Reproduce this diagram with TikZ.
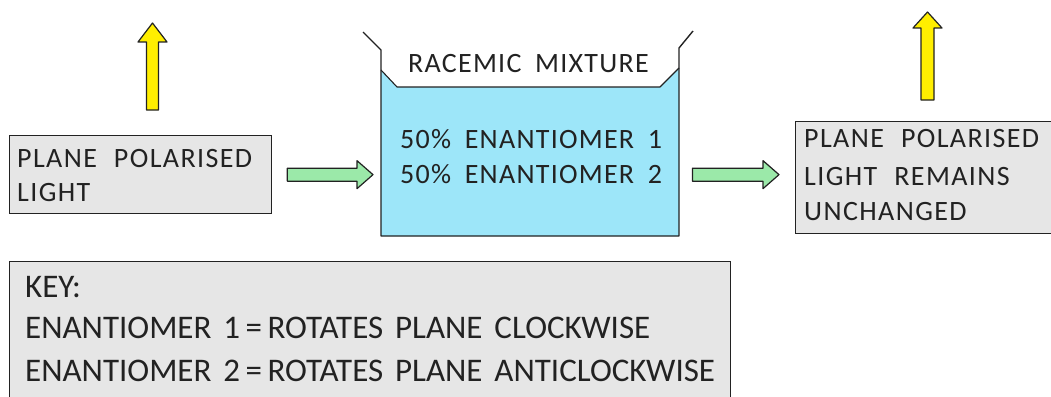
\documentclass[tikz,border=0pt]{standalone}
\usepackage{fontspec}
\setmainfont{Carlito}
\newfontfamily\hand[LetterSpace=5,WordSpace=2.2]{Carlito}
\newfontfamily\beakfont[LetterSpace=4.5,WordSpace=1.8]{Carlito}
\newfontfamily\keyfont[WordSpace=1.6]{Carlito}
\usetikzlibrary{calc}
\definecolor{boxgray}{HTML}{E6E6E6}
\definecolor{liquid}{HTML}{9DE6F9}
\definecolor{arrgreen}{HTML}{9BE9A9}
\definecolor{arryellow}{HTML}{FFEE00}
\definecolor{ink}{HTML}{222222}
\tikzset{
  graybox/.style={draw=ink, fill=boxgray, line width=1.3pt, inner sep=0pt},
  txt/.style={anchor=base west, inner sep=0pt, font=\hand\fontsize{28}{30}\selectfont, text=ink},
  btxt/.style={anchor=base west, inner sep=0pt, font=\beakfont\fontsize{28}{30}\selectfont, text=ink},
  keytxt/.style={anchor=base west, inner sep=0pt, font=\keyfont\fontsize{33}{36}\selectfont, text=ink},
  garrow/.style={draw=ink, fill=arrgreen, line width=1.2pt, line join=round},
  yarrow/.style={draw=ink, fill=arryellow, line width=1.2pt, line join=round},
  vessel/.style={draw=ink, line width=1.4pt, line join=round}
}
\newcommand\myblockarrow[2]{%
  \draw[garrow] let \p1=(#1), \p2=(#2) in
   (\x1,\y1+6.5pt) -- (\x2-16pt,\y1+6.5pt) -- (\x2-16pt,\y1+14pt) -- (\x2,\y1)
   -- (\x2-16pt,\y1-14pt) -- (\x2-16pt,\y1-6.5pt) -- (\x1,\y1-6.5pt) -- cycle;}
\begin{document}
\begin{tikzpicture}[x=1pt,y=-1pt]
\useasboundingbox (0,0) rectangle (1051,396);
% left box
\node[graybox, anchor=north west, minimum width=262pt, minimum height=78pt] (src) at (9,135) {};
\node[txt] (src1) at (17,167) {PLANE POLARISED};
\node[txt] (src2) at (17,201) {LIGHT};
% yellow arrow left
\draw[yarrow] (146.5,110) -- (146.5,42) -- (138,42) -- (152.5,23) -- (167,42) -- (158.5,42) -- (158.5,110) -- cycle;
% beaker
\node[anchor=north west, minimum width=298pt, minimum height=187pt, inner sep=0pt] (beaker) at (381,50) {};
\fill[liquid] (381,70) -- (397,87) -- (660,87) -- (679,68) -- (679,236) -- (381,236) -- cycle;
\draw[vessel, line width=1.1pt] (381,70) -- (397,87) -- (660,87) -- (679,68);
\draw[vessel] (363,32) -- (381,50) -- (381,236) -- (679,236) -- (679,48) -- (693,31);
\node[btxt] (rac) at (408,72) {RACEMIC MIXTURE};
\node[btxt] (en1) at (400,148) {50\% ENANTIOMER 1};
\node[btxt] (en2) at (400,183) {50\% ENANTIOMER 2};
% right box
\node[graybox, anchor=north west, minimum width=260pt, minimum height=112pt] (out) at (795,121) {};
\node[txt] (out1) at (804,147) {PLANE POLARISED};
\node[txt] (out2) at (804,185) {LIGHT REMAINS};
\node[txt] (out3) at (804,220) {UNCHANGED};
% yellow arrow right
\draw[yarrow] (921,100) -- (921,28) -- (913,28) -- (927.5,12) -- (942,28) -- (934,28) -- (934,100) -- cycle;
% green arrows
\coordinate (g1a) at ($(src.east)+(15,0)$);
\coordinate (g1b) at ($(beaker.west)+(-8,0)$);
\coordinate (g2a) at ($(beaker.east)+(13,0)$);
\coordinate (g2b) at ($(out.west)+(-16,0)$);
\path coordinate (g1b') at (g1b |- g1a);
\myblockarrow{g1a}{g1b'}
\path coordinate (g2a') at (g2a |- g1a) coordinate (g2b') at (g2b |- g1a);
\myblockarrow{g2a'}{g2b'}
% key
\node[graybox, anchor=north west, minimum width=721pt, minimum height=140pt] (key) at (9,261) {};
\node[keytxt] (k0) at (25,297) {KEY:};
\node[keytxt] (k1) at (25,338) {ENANTIOMER 1\,=\,ROTATES PLANE CLOCKWISE};
\node[keytxt] (k2) at (25,381) {ENANTIOMER 2\,=\,ROTATES PLANE ANTICLOCKWISE};
\end{tikzpicture}
\end{document}
